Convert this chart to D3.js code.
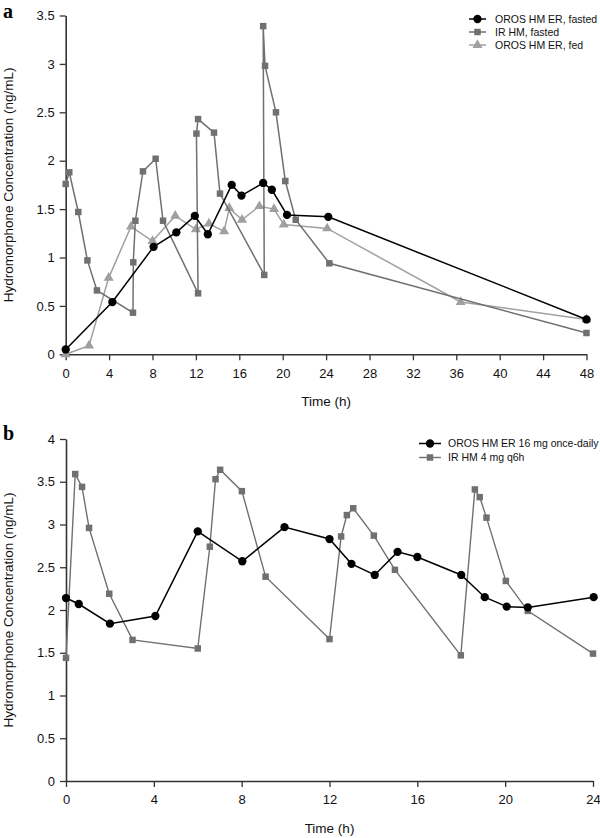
<!DOCTYPE html>
<html>
<head>
<meta charset="utf-8">
<script src="https://cdn.jsdelivr.net/npm/d3@7/dist/d3.min.js"></script>
<style>
  html, body { margin: 0; padding: 0; background: #fff; }
  svg { display: block; font-family: "Liberation Sans", Arial, sans-serif; }
</style>
</head>
<body>
<svg id="chart" width="600" height="838"></svg>
<script>
// ---------- Panel a data ----------
const aXTicks = [0, 4, 8, 12, 16, 20, 24, 28, 32, 36, 40, 44, 48];
const aYTicks = [0, 0.5, 1, 1.5, 2, 2.5, 3, 3.5];
const aOrosFastedT = [0, 4.3, 8.1, 10.2, 11.9, 13.1, 15.3, 16.2, 18.2, 19, 20.4, 24.2, 48];
const aOrosFastedC = [0.05, 0.54, 1.11, 1.26, 1.43, 1.24, 1.75, 1.64, 1.77, 1.70, 1.44, 1.42, 0.36];
const aIRFastedT = [0, 0.33, 1.16, 2.0, 2.88, 6.2, 6.23, 6.42, 7.12, 8.29, 8.97, 12.2, 12.05, 12.2, 13.67, 14.22, 18.3, 18.2, 18.37, 19.38, 20.24, 21.2, 24.3, 48];
const aIRFastedC = [1.76, 1.88, 1.47, 0.97, 0.66, 0.43, 0.95, 1.38, 1.89, 2.02, 1.38, 0.63, 2.28, 2.43, 2.29, 1.66, 0.82, 3.39, 2.98, 2.50, 1.79, 1.39, 0.94, 0.22];
const aOrosFedT = [0, 2.15, 3.96, 6.02, 8.0, 10.1, 12.0, 13.2, 14.6, 15.08, 16.25, 17.85, 19.2, 20.1, 24.1, 36.4, 48];
const aOrosFedC = [0, 0.09, 0.79, 1.32, 1.17, 1.43, 1.29, 1.35, 1.27, 1.51, 1.39, 1.53, 1.50, 1.34, 1.30, 0.54, 0.36];
const aLegend = ["OROS HM ER, fasted", "IR HM, fasted", "OROS HM ER, fed"];

// ---------- Panel b data ----------
const bXTicks = [0, 4, 8, 12, 16, 20, 24];
const bYTicks = [0, 0.5, 1, 1.5, 2, 2.5, 3, 3.5, 4];
const bOrosT = [0, 0.58, 2, 4.07, 6, 8.03, 9.95, 12, 13, 14.06, 15.1, 16, 18, 19.07, 20.07, 21.03, 24.03];
const bOrosC = [2.14, 2.07, 1.84, 1.93, 2.92, 2.57, 2.97, 2.83, 2.54, 2.41, 2.68, 2.62, 2.41, 2.15, 2.04, 2.03, 2.15];
const bIRT = [0, 0.42, 0.73, 1.05, 1.97, 3.03, 6, 6.55, 6.81, 7.02, 8.01, 9.09, 12, 12.53, 12.79, 13.08, 14.02, 14.98, 17.98, 18.62, 18.84, 19.15, 20.03, 21.03, 24];
const bIRC = [1.44, 3.59, 3.44, 2.96, 2.19, 1.65, 1.55, 2.74, 3.53, 3.64, 3.39, 2.39, 1.66, 2.86, 3.11, 3.19, 2.87, 2.47, 1.47, 3.41, 3.32, 3.08, 2.34, 1.99, 1.49];
const bLegend = ["OROS HM ER 16 mg once-daily", "IR HM 4 mg q6h"];

const xTitle = "Time (h)";
const yTitle = "Hydromorphone Concentration (ng/mL)";

// ---------- styles ----------
const BLACK = "#000";
const GRAY = "#707070";
const LIGHT = "#a0a0a0";
const AXIS = "#333";

const svg = d3.select("#chart");

function zip(t, c) { return t.map((d, i) => ({ t: d, c: c[i] })); }

function drawPanel(opt) {
  const g = svg.append("g");
  const x = d3.scaleLinear().domain(opt.xDomain).range(opt.xRange);
  const y = d3.scaleLinear().domain(opt.yDomain).range(opt.yRange);

  const xAxis = d3.axisBottom(x).tickValues(opt.xTicks).tickFormat(d => String(d))
    .tickSizeInner(6).tickSizeOuter(0).tickPadding(8);
  const yAxis = d3.axisLeft(y).tickValues(opt.yTicks).tickFormat(d => String(d))
    .tickSizeInner(6).tickSizeOuter(0).tickPadding(5);

  const gx = g.append("g").attr("transform", `translate(0,${opt.yRange[0]})`).call(xAxis);
  const gy = g.append("g").attr("transform", `translate(${opt.xRange[0]},0)`).call(yAxis);
  [gx, gy].forEach(a => {
    a.select(".domain").attr("stroke", AXIS).attr("stroke-width", 1.6);
    a.selectAll(".tick line").attr("stroke", AXIS).attr("stroke-width", 1.3);
    a.selectAll(".tick text").attr("fill", "#111").style("font-size", "13px")
      .style("font-family", '"Liberation Sans", Arial, sans-serif');
  });

  g.append("text")
    .attr("x", (opt.xRange[0] + opt.xRange[1]) / 2)
    .attr("y", opt.xTitleY)
    .attr("text-anchor", "middle")
    .style("font-size", "13.5px").attr("fill", "#111")
    .text(xTitle);
  g.append("text")
    .attr("transform", `translate(13,${(opt.yRange[0] + opt.yRange[1]) / 2}) rotate(-90)`)
    .attr("text-anchor", "middle")
    .style("font-size", "13.5px").attr("fill", "#111")
    .text(yTitle);

  g.append("text")
    .attr("x", 3).attr("y", opt.letterY)
    .style("font-family", '"Liberation Serif", "Times New Roman", serif')
    .style("font-weight", "bold").style("font-size", "20px")
    .text(opt.letter);

  const line = d3.line().x(d => x(d.t)).y(d => y(d.c));
  opt.series.forEach(s => {
    const data = zip(s.t, s.c);
    g.append("path").datum(data)
      .attr("fill", "none").attr("stroke", s.color).attr("stroke-width", s.width)
      .attr("d", line);
    g.selectAll(null).data(data).enter().append("path")
      .attr("transform", d => `translate(${x(d.t)},${y(d.c)})`)
      .attr("d", d3.symbol().type(s.symbol).size(s.size)())
      .attr("fill", s.color);
  });

  const lg = g.append("g");
  opt.legendItems.forEach((it, i) => {
    const yy = opt.legendY + i * opt.legendStep;
    lg.append("line").attr("x1", opt.legendX0).attr("x2", opt.legendX1)
      .attr("y1", yy).attr("y2", yy).attr("stroke", it.color).attr("stroke-width", it.width);
    lg.append("path")
      .attr("transform", `translate(${(opt.legendX0 + opt.legendX1) / 2},${yy})`)
      .attr("d", d3.symbol().type(it.symbol).size(it.size)())
      .attr("fill", it.color);
    lg.append("text").attr("x", opt.legendTextX).attr("y", yy).attr("dy", "0.35em")
      .style("font-size", "10.5px").attr("fill", "#111")
      .text(it.label);
  });
}

const aSeries = [
  { t: aOrosFedT, c: aOrosFedC, color: LIGHT, width: 1.5, symbol: d3.symbolTriangle, size: 44, label: aLegend[2] },
  { t: aIRFastedT, c: aIRFastedC, color: GRAY, width: 1.5, symbol: d3.symbolSquare, size: 42, label: aLegend[1] },
  { t: aOrosFastedT, c: aOrosFastedC, color: BLACK, width: 1.5, symbol: d3.symbolCircle, size: 54, label: aLegend[0] }
];
drawPanel({
  letter: "a", letterY: 18,
  xDomain: [0, 48], xRange: [65.7, 586.5],
  yDomain: [0, 3.5], yRange: [354.3, 15.5],
  xTicks: aXTicks, yTicks: aYTicks,
  xTitleY: 406,
  series: aSeries,
  legendItems: [aSeries[2], aSeries[1], aSeries[0]],
  legendX0: 469, legendX1: 486, legendTextX: 495, legendY: 19, legendStep: 13
});

const bSeries = [
  { t: bIRT, c: bIRC, color: GRAY, width: 1.4, symbol: d3.symbolSquare, size: 42, label: bLegend[1] },
  { t: bOrosT, c: bOrosC, color: BLACK, width: 1.5, symbol: d3.symbolCircle, size: 54, label: bLegend[0] }
];
drawPanel({
  letter: "b", letterY: 440,
  xDomain: [0, 24], xRange: [66, 593],
  yDomain: [0, 4], yRange: [781, 439],
  xTicks: bXTicks, yTicks: bYTicks,
  xTitleY: 833,
  series: bSeries,
  legendItems: [bSeries[1], bSeries[0]],
  legendX0: 419, legendX1: 441, legendTextX: 448, legendY: 443.5, legendStep: 14
});
</script>
</body>
</html>
